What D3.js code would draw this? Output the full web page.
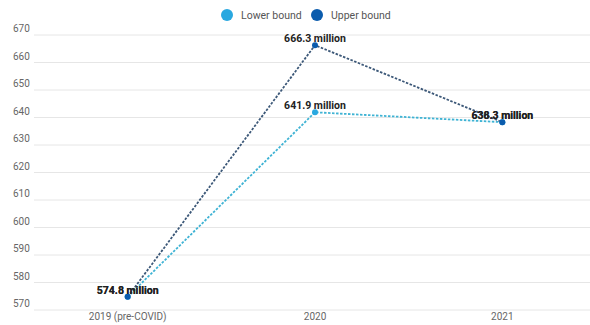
<!DOCTYPE html>
<html>
<head>
<meta charset="utf-8">
<script src="https://cdn.jsdelivr.net/npm/d3@7"></script>
<style>
  body { margin: 0; background: #fff; font-family: Roboto, "Noto Sans", sans-serif; }
</style>
</head>
<body>
<script>
const years = ["2019 (pre-COVID)", "2020", "2021"];
const lowerBound = [574.8, 641.9, 638.3];
const upperBound = [574.8, 666.3, 638.3];
const yTicks = [570, 580, 590, 600, 610, 620, 630, 640, 650, 660, 670];

const w = 590, h = 325;

const svg = d3.select("body").
append("svg").
attr("width", w).
attr("height", h);

const xScale = d3.scaleBand().
domain(years).
range([34, 596]);

const yScale = d3.scaleLinear().
domain([570, 670]).
range([310, 35]);

// grid + y labels
svg.append("g").
selectAll("line").
data(yTicks).
enter().
append("line").
attr("x1", 34).
attr("x2", 590).
attr("y1", d => yScale(d)).
attr("y2", d => yScale(d)).
attr("stroke", "#e6e6e6").
attr("stroke-width", 1);

svg.append("g").
selectAll("text").
data(yTicks).
enter().
append("text").
attr("x", 13).
attr("y", d => yScale(d) - 3).
attr("font-size", 10).
attr("fill", "#666").
text(d => d);

const xAxis = d3.axisBottom(xScale).tickSize(0).tickPadding(3);
const xg = svg.append("g").
attr("transform", "translate(0,310)").
call(xAxis);
xg.select(".domain").remove();
xg.selectAll("text").attr("font-size", 10).attr("fill", "#666").attr("font-family", "Roboto, sans-serif");

const cx = d => xScale(d) + xScale.bandwidth() / 2;

const series = [
{ name: "Lower bound", values: lowerBound, color: "#29a8e0", line: "#3fb3d4" },
{ name: "Upper bound", values: upperBound, color: "#0b5cad", line: "#3c5878" }];


const line = d3.line().
x((d, i) => cx(years[i])).
y(d => yScale(d));

series.forEach(s => {
  svg.append("path").
  datum(s.values).
  attr("d", line).
  attr("fill", "none").
  attr("stroke", s.line).
  attr("stroke-width", 1.8).
  attr("stroke-dasharray", "2.5,1.5");
});

series.forEach(s => {
  svg.append("g").
  selectAll("circle").
  data(s.values).
  enter().
  append("circle").
  attr("cx", (d, i) => cx(years[i])).
  attr("cy", d => yScale(d)).
  attr("r", 3).
  attr("fill", s.color);
});

series.forEach(s => {
  svg.append("g").
  selectAll("text").
  data(s.values).
  enter().
  append("text").
  attr("x", (d, i) => cx(years[i])).
  attr("y", d => yScale(d) - 3).
  attr("text-anchor", "middle").
  attr("font-size", 10.5).
  attr("font-weight", "bold").
  attr("fill", "#222").
  text(d => d.toFixed(1) + " million");
});

// legend
const legend = svg.append("g").attr("transform", "translate(227,15)");
const legX = [0, 90];
series.forEach((s, i) => {
  legend.append("circle").
  attr("cx", legX[i]).
  attr("cy", 0).
  attr("r", 6).
  attr("fill", s.color);
  legend.append("text").
  attr("x", legX[i] + 14).
  attr("y", 4).
  attr("font-size", 10.5).
  attr("fill", "#555").
  text(s.name);
});
</script>
</body>
</html>
